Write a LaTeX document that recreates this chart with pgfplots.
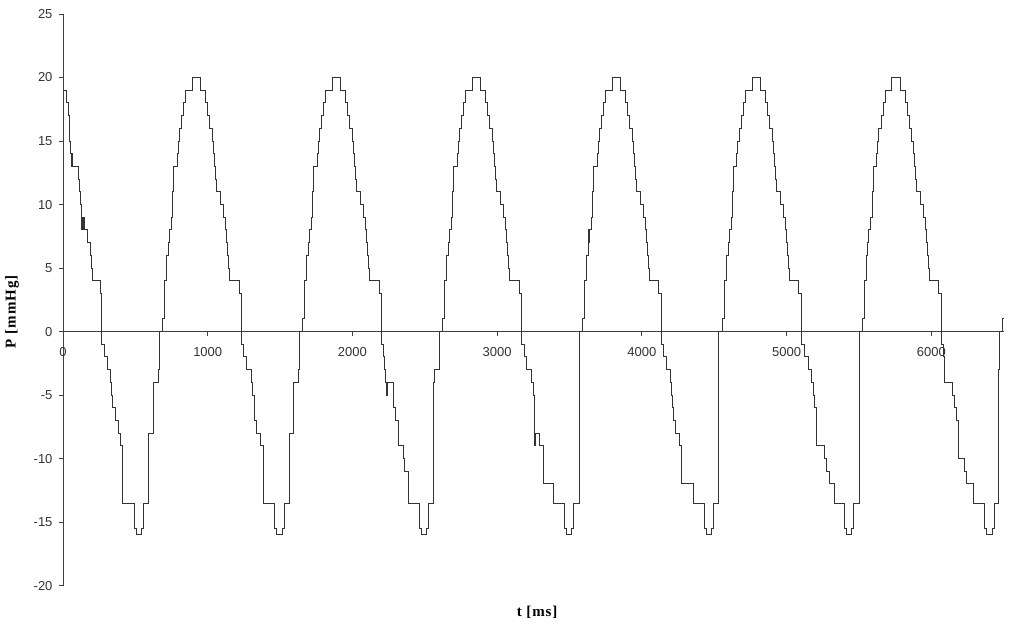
\documentclass[border=0pt]{standalone}
\usepackage{fontspec}
\setmainfont{Liberation Serif}
\setsansfont{Liberation Sans}
\usepackage{pgfplots}
\pgfplotsset{compat=1.18}
\begin{document}
\begin{tikzpicture}
\path[use as bounding box] (0,0) rectangle (1024pt,631pt);
\begin{axis}[
 at={(63pt,45.4pt)}, anchor=south west,
 scale only axis, width=940.7pt, height=571.6pt,
 xmin=0, xmax=6500, ymin=-20, ymax=25,
 axis x line*=middle, axis y line*=left,
 hide obscured x ticks=false, hide obscured y ticks=false,
 xtick={0,1000,2000,3000,4000,5000,6000},
 xticklabels={0,1000,2000,3000,4000,5000,6000},
 ytick={-20,-15,-10,-5,0,5,10,15,20,25},
 yticklabels={-20,-15,-10,-5,0,5,10,15,20,25},
 tick align=outside, major tick length=4pt,
 axis line style={black!75, line width=0.9pt},
 tick style={black!75, line width=0.9pt},
 ticklabel style={font=\sffamily\fontsize{13}{15}\selectfont, text=black!80},
 xticklabel style={yshift=-8.5pt},
 yticklabel style={xshift=-3pt},
 clip=false,
]
\addplot[const plot, black!80, line width=1pt] coordinates {
(0,19) (21,18) (37,17) (44,16) (48,15) (55,14) (58,13) (60,14) (63,13) (65,14) (68,13) (106,12) (117,11) (124,10) (129,9) (131,8) (134,9) (137,8) (140,9) (147,8) (168,7) (187,6) (196,5) (207,4) (256,3)
(267,-1) (288,-2) (306,-3) (329,-4) (336,-5) (343,-6) (366,-7) (382,-8) (398,-9) (412,-13.5) (492,-15.5) (509,-16) (543,-15.5) (559,-13.5) (589,-8) (628,-4) (658,-3) (670,0) (686,1) (704,4) (716,6) (727,7) (736,8) (748,9) (757,11) (762,12) (766,13) (789,14) (796,15) (803,16) (821,17) (835,18) (849,19) (893,20) (950,19) (985,18) (1001,17) (1015,16) (1031,15) (1042,14) (1049,13) (1056,12) (1061,11) (1088,10) (1111,9) (1125,8) (1132,7) (1139,6) (1143,5) (1150,4) (1217,3)
(1234,-1) (1246,-2) (1269,-3) (1304,-4) (1312,-5) (1326,-7) (1338,-8) (1365,-9) (1384,-13.5) (1464,-15.5) (1476,-16) (1517,-15.5) (1533,-13.5) (1563,-8) (1591,-4) (1626,-3) (1637,0) (1653,1) (1671,4) (1683,6) (1694,7) (1703,8) (1715,9) (1724,11) (1729,12) (1733,13) (1756,14) (1763,15) (1770,16) (1788,17) (1802,18) (1816,19) (1860,20) (1917,19) (1952,18) (1968,17) (1982,16) (1998,15) (2009,14) (2016,13) (2023,12) (2028,11) (2055,10) (2078,9) (2092,8) (2099,7) (2106,6) (2110,5) (2117,4) (2184,3)
(2201,-1) (2213,-2) (2224,-3) (2231,-4) (2236,-5) (2239,-4) (2282,-6) (2300,-7) (2316,-9) (2351,-10) (2362,-11) (2385,-13.5) (2466,-15.5) (2477,-16) (2512,-15.5) (2528,-13.5) (2558,-4) (2569,-3) (2599,0) (2620,1) (2638,4) (2650,6) (2661,7) (2670,8) (2682,9) (2691,11) (2696,12) (2700,13) (2723,14) (2730,15) (2737,16) (2755,17) (2769,18) (2783,19) (2827,20) (2884,19) (2919,18) (2935,17) (2949,16) (2965,15) (2976,14) (2983,13) (2990,12) (2992,11) (2993,12) (2995,11) (3022,10) (3045,9) (3059,8) (3066,7) (3073,6) (3077,5) (3084,4) (3151,3)
(3168,-1) (3191,-2) (3203,-3) (3237,-4) (3249,-5) (3256,-7) (3260,-9) (3262,-8) (3295,-9) (3318,-12) (3387,-13.5) (3467,-15.5) (3479,-16) (3514,-15.5) (3530,-13.5) (3568,0) (3590,1) (3605,4) (3617,6) (3628,7) (3631,8) (3633,7) (3635,8) (3649,9) (3658,11) (3663,12) (3667,13) (3690,14) (3697,15) (3704,16) (3722,17) (3736,18) (3750,19) (3794,20) (3851,19) (3886,18) (3902,17) (3916,16) (3932,15) (3943,14) (3950,13) (3957,12) (3962,11) (3989,10) (4012,9) (4026,8) (4033,7) (4040,6) (4044,5) (4051,4) (4118,3)
(4135,-1) (4147,-2) (4170,-3) (4197,-4) (4204,-5) (4211,-6) (4216,-7) (4234,-8) (4262,-9) (4273,-12) (4354,-13.5) (4434,-15.5) (4446,-16) (4481,-15.5) (4492,-13.5) (4527,0) (4554,1) (4572,4) (4584,6) (4595,7) (4604,8) (4616,9) (4625,11) (4630,12) (4634,13) (4657,14) (4664,15) (4671,16) (4689,17) (4703,18) (4717,19) (4761,20) (4818,19) (4853,18) (4869,17) (4883,16) (4899,15) (4910,14) (4917,13) (4924,12) (4929,11) (4956,10) (4979,9) (4993,8) (5000,7) (5007,6) (5011,5) (5018,4) (5085,3)
(5102,-1) (5125,-2) (5148,-3) (5175,-4) (5183,-5) (5194,-6) (5206,-9) (5263,-10) (5275,-11) (5293,-12) (5332,-13.5) (5401,-15.5) (5413,-16) (5448,-15.5) (5462,-13.5) (5505,0) (5521,1) (5539,4) (5551,6) (5562,7) (5565,8) (5567,7) (5569,8) (5583,9) (5592,11) (5597,12) (5601,13) (5624,14) (5631,15) (5638,16) (5656,17) (5670,18) (5684,19) (5728,20) (5785,19) (5820,18) (5836,17) (5850,16) (5866,15) (5877,14) (5884,13) (5891,12) (5896,11) (5923,10) (5946,9) (5960,8) (5967,7) (5974,6) (5978,5) (5985,4) (6052,3)
(6069,-1) (6081,-2) (6092,-4) (6145,-5) (6159,-6) (6177,-7) (6191,-10) (6226,-11) (6246,-12) (6288,-13.5) (6368,-15.5) (6380,-16) (6426,-15.5) (6437,-13.5) (6463,-3) (6474,0) (6493,1) (6494,1)
};
\node[rotate=90, font=\bfseries\fontsize{15}{17}\selectfont\addfontfeatures{LetterSpace=6}] at (axis description cs:-0.054,0.479) {P [mmHg]};
\node[font=\bfseries\fontsize{15}{17}\selectfont\addfontfeatures{LetterSpace=6}] at (axis description cs:0.504,-0.047) {t [ms]};
\end{axis}
\end{tikzpicture}
\end{document}
